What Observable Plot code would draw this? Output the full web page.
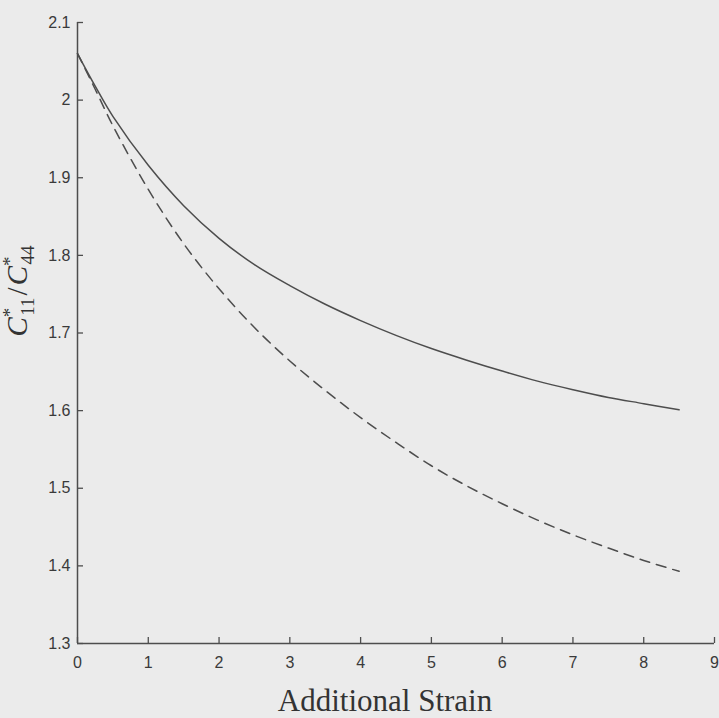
<!DOCTYPE html>
<html><head><meta charset="utf-8">
<script src="https://cdn.jsdelivr.net/npm/d3@7"></script>
<script src="https://cdn.jsdelivr.net/npm/@observablehq/plot@0.6"></script>
<style>
html,body{margin:0;padding:0;background:#ebebeb;}
#chart{width:719px;height:718px;}
</style></head><body><div id="chart"></div>
<script>
// Additional strain values (x)
const strain = [0, 0.25, 0.5, 1, 1.5, 2, 2.5, 3, 3.5, 4, 4.5, 5, 5.5, 6, 6.5, 7, 7.5, 8, 8.5];
// Solid curve C*11/C*44
const solidRatio = [2.06, 2.018, 1.979, 1.916, 1.864, 1.822, 1.788, 1.761, 1.737, 1.716, 1.697, 1.680, 1.665, 1.651, 1.638, 1.627, 1.617, 1.609, 1.601];
// Dashed curve C*11/C*44
const dashedRatio = [2.06, 2.014, 1.967, 1.885, 1.815, 1.757, 1.707, 1.664, 1.626, 1.591, 1.559, 1.529, 1.503, 1.480, 1.459, 1.440, 1.423, 1.407, 1.393];
const xTicks = [0, 1, 2, 3, 4, 5, 6, 7, 8, 9];
const yTicks = [1.3, 1.4, 1.5, 1.6, 1.7, 1.8, 1.9, 2.0, 2.1];
const xLabel = "Additional Strain";

const solid = strain.map((x, i) => ({x, y: solidRatio[i]}));
const dashed = strain.map((x, i) => ({x, y: dashedRatio[i]}));

const ink = "#4d4d4d";
const fmtY = d => String(+d.toFixed(1));

const W = 719, H = 718, mL = 77, mR = 5, mT = 22, mB = 75;
const tickLen = 6;

const svg = Plot.plot({
  width: W,
  height: H,
  marginLeft: mL,
  marginRight: mR,
  marginTop: mT,
  marginBottom: mB,
  style: {background: "transparent", fontFamily: "'Liberation Sans', Arial, sans-serif", fontSize: "16px", color: "#3a3a3a"},
  x: {domain: [0, 9]},
  y: {domain: [1.3, 2.1]},
  marks: [
    // tick labels
    Plot.axisX({ticks: xTicks, tickSize: 0, tickPadding: 13, tickFormat: d => String(d), label: null}),
    Plot.axisY({ticks: yTicks, tickSize: 0, tickPadding: 7, tickFormat: fmtY, label: null}),
    // inward tick marks
    Plot.tickX(xTicks, {x: d => d, insetTop: (H - mT - mB) - tickLen, stroke: ink, strokeWidth: 1.3}),
    Plot.tickY(yTicks, {y: d => d, insetRight: (W - mL - mR) - tickLen, stroke: ink, strokeWidth: 1.3}),
    // axis lines
    Plot.ruleX([0], {stroke: ink, strokeWidth: 1.5}),
    Plot.ruleY([1.3], {stroke: ink, strokeWidth: 1.5}),
    // curves
    Plot.line(solid, {x: "x", y: "y", curve: "catmull-rom", stroke: ink, strokeWidth: 1.5}),
    Plot.line(dashed, {x: "x", y: "y", curve: "catmull-rom", stroke: ink, strokeWidth: 1.5, strokeDasharray: "10,7"})
  ]
});

const s = d3.select(svg);
// x axis title
s.append("text")
  .attr("x", 385).attr("y", 711)
  .attr("text-anchor", "middle")
  .style("font-family", "'Liberation Serif', 'Times New Roman', serif")
  .style("font-size", "31px")
  .attr("fill", "#333")
  .text(xLabel);

// y axis title: C*_11 / C*_44
const t = s.append("text")
  .attr("transform", "translate(27,291) rotate(-90)")
  .attr("text-anchor", "middle")
  .style("font-family", "'Liberation Serif', 'Times New Roman', serif")
  .style("font-size", "29px")
  .attr("fill", "#333");
t.append("tspan").style("font-style", "italic").text("C");
t.append("tspan").attr("dy", -11).style("font-size", "19px").text("*");
t.append("tspan").attr("dx", -8).attr("dy", 18).style("font-size", "19px").text("11");
t.append("tspan").attr("dx", 2).attr("dy", -7).text("/");
t.append("tspan").attr("dx", 2).style("font-style", "italic").text("C");
t.append("tspan").attr("dy", -11).style("font-size", "19px").text("*");
t.append("tspan").attr("dx", -8).attr("dy", 18).style("font-size", "19px").text("44");

document.getElementById("chart").appendChild(svg);
</script>
</body></html>
